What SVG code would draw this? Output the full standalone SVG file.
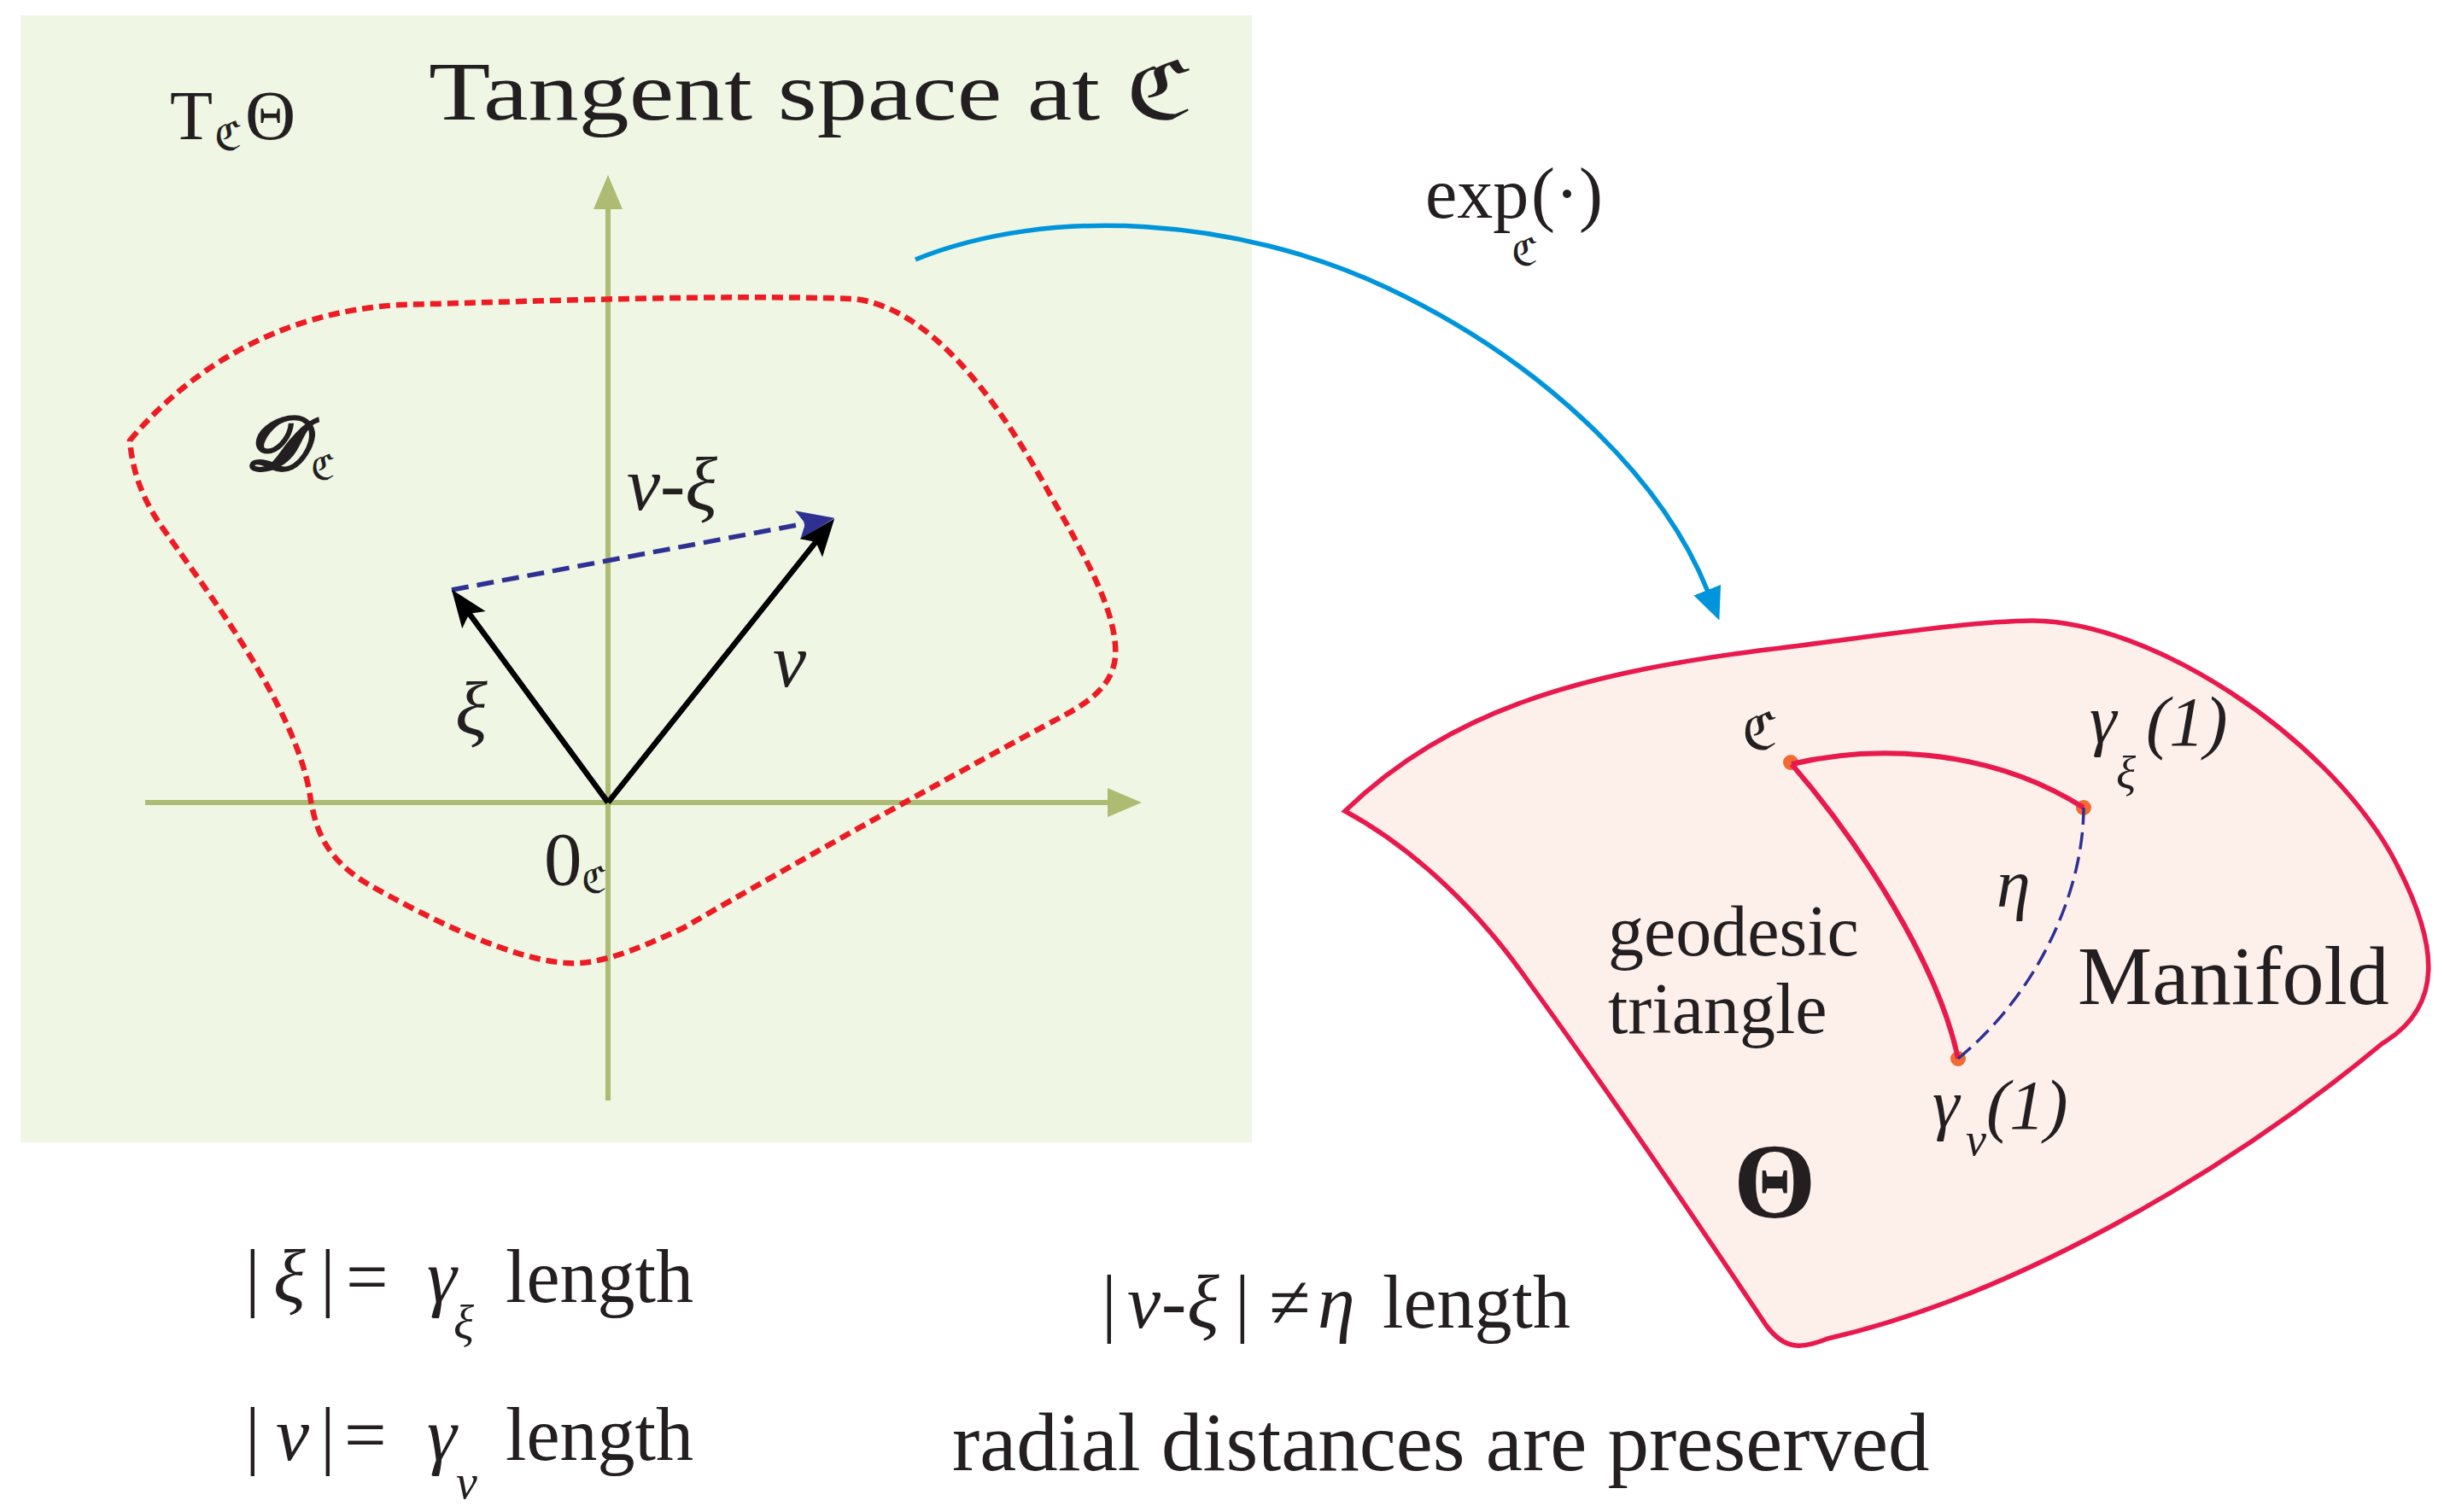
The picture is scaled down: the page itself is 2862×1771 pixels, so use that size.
<svg xmlns="http://www.w3.org/2000/svg" width="2862" height="1771" viewBox="0 0 2862 1771">
<style>
.t{font-family:"Liberation Serif","DejaVu Serif",serif;fill:#231f20}
.i{font-style:italic}
.axis{stroke:#adbc72;stroke-width:6;fill:none}
.vec{stroke:#000;stroke-width:6.5;fill:none}
.dashblue{stroke:#2e3192;stroke-width:5.5;fill:none;stroke-dasharray:20 10}
.region{stroke:#ed1c24;stroke-width:6.5;fill:none;stroke-dasharray:13 7}
.geo{stroke:#e8194d;stroke-width:6;fill:none}
.dot{fill:#f26a31}
</style>
<defs>
<marker id="mAxis" markerUnits="userSpaceOnUse" markerWidth="42" markerHeight="36" refX="2" refY="17" orient="auto">
<path d="M0,0 L40,17 L0,34 z" fill="#adbc72"/>
</marker>
<marker id="mBlack" markerUnits="userSpaceOnUse" markerWidth="46" markerHeight="36" refX="10" refY="17" orient="auto">
<path d="M0,0 L44,17 L0,34 L9,17 z" fill="#000"/>
</marker>
<marker id="mBlue" markerUnits="userSpaceOnUse" markerWidth="46" markerHeight="36" refX="10" refY="17" orient="auto">
<path d="M0,0 L44,17 L0,34 L9,17 z" fill="#2e3192"/>
</marker>
<marker id="mCyan" markerUnits="userSpaceOnUse" markerWidth="40" markerHeight="36" refX="2" refY="17" orient="auto">
<path d="M0,0 L38,17 L0,34 z" fill="#0095da"/>
</marker>
</defs>
<rect width="2862" height="1771" fill="#fff"/>

<g id="tangent-space">
<rect x="24" y="18" width="1442" height="1320" fill="#eff6e4"/>
<text class="t" x="199" y="163" font-size="82">T</text>
<text class="t" x="251" y="176" font-size="48">ℭ</text>
<text class="t" x="287" y="163" font-size="82">Θ</text>
<text class="t" x="502" y="140" font-size="97" textLength="895" lengthAdjust="spacingAndGlyphs">Tangent space at ℭ</text>
</g>

<g id="axes">
<line class="axis" x1="170" y1="940" x2="1299" y2="940" marker-end="url(#mAxis)"/>
<line class="axis" x1="712" y1="1289" x2="712" y2="243" marker-end="url(#mAxis)"/>
</g>

<g id="domain">
<path class="region" d="M152,516 C215,440 320,365 470,357 C650,352 850,345 1000,350 C1090,360 1170,470 1230,580 C1270,650 1310,720 1306,770 C1303,800 1280,820 1246,838 C1130,900 950,1000 800,1087 C740,1115 700,1130 665,1128 C600,1125 500,1075 430,1035 C380,1005 370,970 364,938 C350,830 240,690 186,612 C165,580 155,550 152,516 z"/>
<text class="t i" x="287" y="550" font-size="88" font-weight="bold" stroke="#231f20" stroke-width="2">𝒟</text>
<text class="t" x="364" y="562" font-size="42">ℭ</text>
</g>

<g id="vectors">
<line class="dashblue" x1="529" y1="691" x2="944" y2="613" marker-end="url(#mBlue)"/>
<line class="vec" x1="712" y1="940" x2="549" y2="718" marker-end="url(#mBlack)"/>
<line class="vec" x1="712" y1="940" x2="956" y2="634" marker-end="url(#mBlack)"/>
<text class="t i" x="734" y="597" font-size="88">v-ξ</text>
<text class="t i" x="533" y="860" font-size="88">ξ</text>
<text class="t i" x="905" y="804" font-size="88">v</text>
<text class="t" x="637" y="1036" font-size="89">0</text>
<text class="t" x="681" y="1046" font-size="44">ℭ</text>
</g>

<g id="connectors">
<path d="M1072,304 C1230,240 1450,255 1624,337 C1800,420 1945,555 2000,693" stroke="#0095da" stroke-width="5.5" fill="none" marker-end="url(#mCyan)"/>
<text class="t" x="1669" y="255" font-size="84">exp</text>
<text class="t" x="1770" y="311" font-size="46">ℭ</text>
<text class="t" x="1793" y="255" font-size="84">(·)</text>
</g>

<g id="manifold">
<path d="M1575,950 C1700,830 1850,790 2060,762 C2200,745 2300,728 2380,727 C2520,728 2720,860 2800,1000 C2860,1110 2860,1180 2790,1222 C2600,1380 2350,1520 2140,1568 C2110,1580 2090,1582 2068,1552 C1980,1420 1870,1260 1790,1150 C1720,1050 1640,985 1575,950 z" fill="#fdf0eb" stroke="#e8194d" stroke-width="5.5"/>
<circle class="dot" cx="2097" cy="893" r="9"/>
<circle class="dot" cx="2440" cy="946" r="9"/>
<circle class="dot" cx="2293" cy="1240" r="9"/>
<path class="geo" d="M2098,895 C2180,875 2320,870 2440,946"/>
<path class="geo" d="M2098,895 C2180,990 2270,1130 2293,1240"/>
<path d="M2440,946 C2440,1040 2390,1160 2293,1240" stroke="#2e3192" stroke-width="3.5" fill="none" stroke-dasharray="20 9"/>
<text class="t" x="2040" y="878" font-size="62">ℭ</text>
<text class="t i" x="2447" y="870" font-size="80">γ</text>
<text class="t i" x="2478" y="924" font-size="54">ξ</text>
<text class="t i" x="2513" y="873" font-size="82">(1)</text>
<text class="t i" x="2263" y="1320" font-size="80">γ</text>
<text class="t i" x="2302" y="1353" font-size="54">v</text>
<text class="t i" x="2326" y="1322" font-size="82">(1)</text>
<text class="t i" x="2338" y="1062" font-size="80">η</text>
<text class="t" x="1883" y="1119" font-size="84">geodesic</text>
<text class="t" x="1883" y="1210" font-size="84">triangle</text>
<text class="t" x="2433" y="1176" font-size="98">Manifold</text>
<text class="t" x="2030" y="1426" font-size="124" font-weight="bold">Θ</text>
</g>

<g id="notes">
<text class="t" y="1525" font-size="88"><tspan x="287">|</tspan><tspan x="320" class="i">ξ</tspan><tspan x="375">|</tspan><tspan x="405">=</tspan><tspan x="500" class="i">γ</tspan><tspan x="592">length</tspan></text>
<text class="t i" x="531" y="1568" font-size="56">ξ</text>
<text class="t" y="1710" font-size="88"><tspan x="287">|</tspan><tspan x="323" class="i">v</tspan><tspan x="375">|</tspan><tspan x="403">=</tspan><tspan x="500" class="i">γ</tspan><tspan x="592">length</tspan></text>
<text class="t i" x="534" y="1755" font-size="56">v</text>
<text class="t" y="1555" font-size="88"><tspan x="1290">|</tspan><tspan x="1320" class="i">v</tspan><tspan x="1360" class="i">-</tspan><tspan x="1390" class="i">ξ</tspan><tspan x="1446">|</tspan><tspan x="1486">≠</tspan><tspan x="1543" class="i">η</tspan><tspan x="1619">length</tspan></text>
<text class="t" x="1115" y="1722" font-size="97">radial distances are preserved</text>
</g>
</svg>
